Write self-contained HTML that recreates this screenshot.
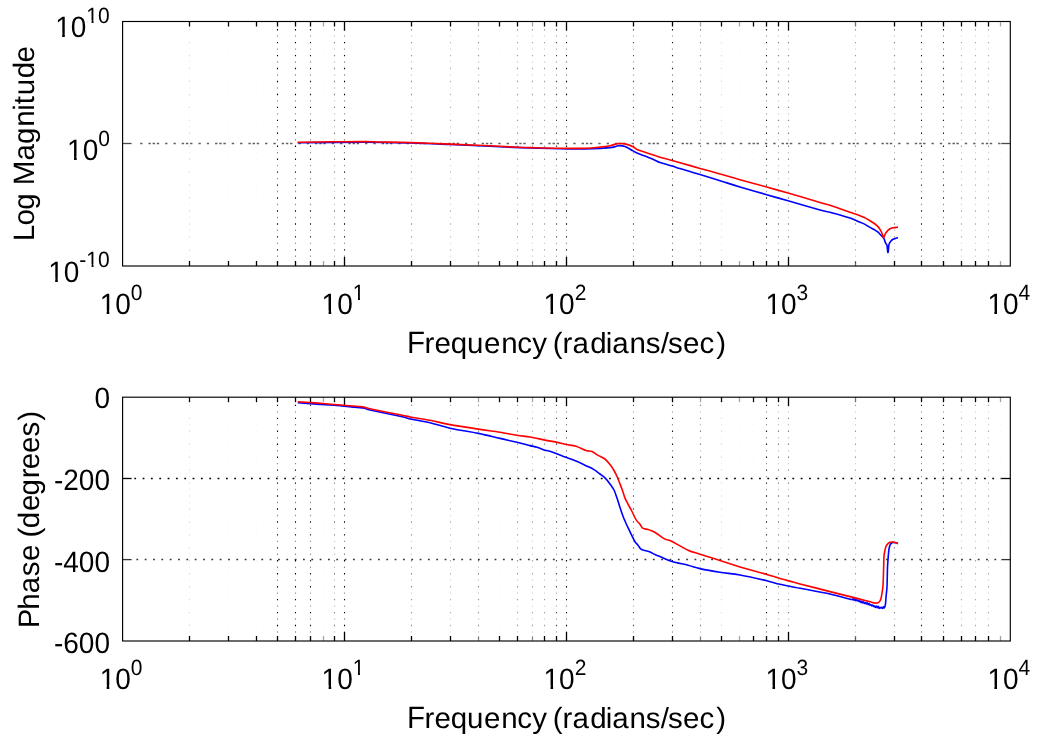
<!DOCTYPE html>
<html><head><meta charset="utf-8"><title>Bode plot</title><style>
html,body{margin:0;padding:0;background:#fff;width:1041px;height:743px;overflow:hidden}
svg{display:block;font-family:"Liberation Sans",sans-serif;fill:#000}
</style></head><body>
<svg width="1041" height="743" viewBox="0 0 1041 743">
<rect width="1041" height="743" fill="#fff"/>
<g stroke="#000" fill="none">
<line x1="189.50" y1="29.00" x2="189.50" y2="266.00" stroke-opacity="0.15" stroke-width="1.1" stroke-dasharray="1.4 11.55"/>
<line x1="189.50" y1="35.47" x2="189.50" y2="266.00" stroke-opacity="0.068" stroke-width="1.1" stroke-dasharray="1.4 11.55"/>
<line x1="228.50" y1="29.00" x2="228.50" y2="266.00" stroke-opacity="0.04" stroke-width="1.1" stroke-dasharray="1.4 11.55"/>
<line x1="228.50" y1="35.47" x2="228.50" y2="266.00" stroke-opacity="0.018" stroke-width="1.1" stroke-dasharray="1.4 11.55"/>
<line x1="256.50" y1="29.00" x2="256.50" y2="266.00" stroke-opacity="0.04" stroke-width="1.1" stroke-dasharray="1.4 11.55"/>
<line x1="256.50" y1="35.47" x2="256.50" y2="266.00" stroke-opacity="0.018" stroke-width="1.1" stroke-dasharray="1.4 11.55"/>
<line x1="277.50" y1="29.00" x2="277.50" y2="266.00" stroke-opacity="1.0" stroke-width="1.1" stroke-dasharray="1.4 11.55"/>
<line x1="277.50" y1="35.47" x2="277.50" y2="266.00" stroke-opacity="0.450" stroke-width="1.1" stroke-dasharray="1.4 11.55"/>
<line x1="295.50" y1="29.00" x2="295.50" y2="266.00" stroke-opacity="1.0" stroke-width="1.1" stroke-dasharray="1.4 11.55"/>
<line x1="295.50" y1="35.47" x2="295.50" y2="266.00" stroke-opacity="0.450" stroke-width="1.1" stroke-dasharray="1.4 11.55"/>
<line x1="310.50" y1="29.00" x2="310.50" y2="266.00" stroke-opacity="0.9" stroke-width="1.1" stroke-dasharray="1.4 11.55"/>
<line x1="310.50" y1="35.47" x2="310.50" y2="266.00" stroke-opacity="0.405" stroke-width="1.1" stroke-dasharray="1.4 11.55"/>
<line x1="323.50" y1="29.00" x2="323.50" y2="266.00" stroke-opacity="0.04" stroke-width="1.1" stroke-dasharray="1.4 11.55"/>
<line x1="323.50" y1="35.47" x2="323.50" y2="266.00" stroke-opacity="0.018" stroke-width="1.1" stroke-dasharray="1.4 11.55"/>
<line x1="334.50" y1="29.00" x2="334.50" y2="266.00" stroke-opacity="0.5" stroke-width="1.1" stroke-dasharray="1.4 11.55"/>
<line x1="334.50" y1="35.47" x2="334.50" y2="266.00" stroke-opacity="0.225" stroke-width="1.1" stroke-dasharray="1.4 11.55"/>
<line x1="344.50" y1="29.00" x2="344.50" y2="266.00" stroke-opacity="1.0" stroke-width="1.1" stroke-dasharray="1.4 11.55"/>
<line x1="344.50" y1="35.47" x2="344.50" y2="266.00" stroke-opacity="0.450" stroke-width="1.1" stroke-dasharray="1.4 11.55"/>
<line x1="411.50" y1="29.00" x2="411.50" y2="266.00" stroke-opacity="0.45" stroke-width="1.1" stroke-dasharray="1.4 11.55"/>
<line x1="411.50" y1="35.47" x2="411.50" y2="266.00" stroke-opacity="0.203" stroke-width="1.1" stroke-dasharray="1.4 11.55"/>
<line x1="450.50" y1="29.00" x2="450.50" y2="266.00" stroke-opacity="0.3" stroke-width="1.1" stroke-dasharray="1.4 11.55"/>
<line x1="450.50" y1="35.47" x2="450.50" y2="266.00" stroke-opacity="0.135" stroke-width="1.1" stroke-dasharray="1.4 11.55"/>
<line x1="478.50" y1="29.00" x2="478.50" y2="266.00" stroke-opacity="0.45" stroke-width="1.1" stroke-dasharray="1.4 11.55"/>
<line x1="478.50" y1="35.47" x2="478.50" y2="266.00" stroke-opacity="0.203" stroke-width="1.1" stroke-dasharray="1.4 11.55"/>
<line x1="499.50" y1="29.00" x2="499.50" y2="266.00" stroke-opacity="0.04" stroke-width="1.1" stroke-dasharray="1.4 11.55"/>
<line x1="499.50" y1="35.47" x2="499.50" y2="266.00" stroke-opacity="0.018" stroke-width="1.1" stroke-dasharray="1.4 11.55"/>
<line x1="517.50" y1="29.00" x2="517.50" y2="266.00" stroke-opacity="0.4" stroke-width="1.1" stroke-dasharray="1.4 11.55"/>
<line x1="517.50" y1="35.47" x2="517.50" y2="266.00" stroke-opacity="0.180" stroke-width="1.1" stroke-dasharray="1.4 11.55"/>
<line x1="532.50" y1="29.00" x2="532.50" y2="266.00" stroke-opacity="0.35" stroke-width="1.1" stroke-dasharray="1.4 11.55"/>
<line x1="532.50" y1="35.47" x2="532.50" y2="266.00" stroke-opacity="0.158" stroke-width="1.1" stroke-dasharray="1.4 11.55"/>
<line x1="544.50" y1="29.00" x2="544.50" y2="266.00" stroke-opacity="0.4" stroke-width="1.1" stroke-dasharray="1.4 11.55"/>
<line x1="544.50" y1="35.47" x2="544.50" y2="266.00" stroke-opacity="0.180" stroke-width="1.1" stroke-dasharray="1.4 11.55"/>
<line x1="556.50" y1="29.00" x2="556.50" y2="266.00" stroke-opacity="0.7" stroke-width="1.1" stroke-dasharray="1.4 11.55"/>
<line x1="556.50" y1="35.47" x2="556.50" y2="266.00" stroke-opacity="0.315" stroke-width="1.1" stroke-dasharray="1.4 11.55"/>
<line x1="566.50" y1="29.00" x2="566.50" y2="266.00" stroke-opacity="1.0" stroke-width="1.1" stroke-dasharray="1.4 11.55"/>
<line x1="566.50" y1="35.47" x2="566.50" y2="266.00" stroke-opacity="0.450" stroke-width="1.1" stroke-dasharray="1.4 11.55"/>
<line x1="633.50" y1="29.00" x2="633.50" y2="266.00" stroke-opacity="0.7" stroke-width="1.1" stroke-dasharray="1.4 11.55"/>
<line x1="633.50" y1="35.47" x2="633.50" y2="266.00" stroke-opacity="0.315" stroke-width="1.1" stroke-dasharray="1.4 11.55"/>
<line x1="672.50" y1="29.00" x2="672.50" y2="266.00" stroke-opacity="0.9" stroke-width="1.1" stroke-dasharray="1.4 11.55"/>
<line x1="672.50" y1="35.47" x2="672.50" y2="266.00" stroke-opacity="0.405" stroke-width="1.1" stroke-dasharray="1.4 11.55"/>
<line x1="700.50" y1="29.00" x2="700.50" y2="266.00" stroke-opacity="0.5" stroke-width="1.1" stroke-dasharray="1.4 11.55"/>
<line x1="700.50" y1="35.47" x2="700.50" y2="266.00" stroke-opacity="0.225" stroke-width="1.1" stroke-dasharray="1.4 11.55"/>
<line x1="721.50" y1="29.00" x2="721.50" y2="266.00" stroke-opacity="0.15" stroke-width="1.1" stroke-dasharray="1.4 11.55"/>
<line x1="721.50" y1="35.47" x2="721.50" y2="266.00" stroke-opacity="0.068" stroke-width="1.1" stroke-dasharray="1.4 11.55"/>
<line x1="739.50" y1="29.00" x2="739.50" y2="266.00" stroke-opacity="0.04" stroke-width="1.1" stroke-dasharray="1.4 11.55"/>
<line x1="739.50" y1="35.47" x2="739.50" y2="266.00" stroke-opacity="0.018" stroke-width="1.1" stroke-dasharray="1.4 11.55"/>
<line x1="753.50" y1="29.00" x2="753.50" y2="266.00" stroke-opacity="0.04" stroke-width="1.1" stroke-dasharray="1.4 11.55"/>
<line x1="753.50" y1="35.47" x2="753.50" y2="266.00" stroke-opacity="0.018" stroke-width="1.1" stroke-dasharray="1.4 11.55"/>
<line x1="766.50" y1="29.00" x2="766.50" y2="266.00" stroke-opacity="0.9" stroke-width="1.1" stroke-dasharray="1.4 11.55"/>
<line x1="766.50" y1="35.47" x2="766.50" y2="266.00" stroke-opacity="0.405" stroke-width="1.1" stroke-dasharray="1.4 11.55"/>
<line x1="778.50" y1="29.00" x2="778.50" y2="266.00" stroke-opacity="0.5" stroke-width="1.1" stroke-dasharray="1.4 11.55"/>
<line x1="778.50" y1="35.47" x2="778.50" y2="266.00" stroke-opacity="0.225" stroke-width="1.1" stroke-dasharray="1.4 11.55"/>
<line x1="788.50" y1="29.00" x2="788.50" y2="266.00" stroke-opacity="0.5" stroke-width="1.1" stroke-dasharray="1.4 11.55"/>
<line x1="788.50" y1="35.47" x2="788.50" y2="266.00" stroke-opacity="0.225" stroke-width="1.1" stroke-dasharray="1.4 11.55"/>
<line x1="855.50" y1="29.00" x2="855.50" y2="266.00" stroke-opacity="0.4" stroke-width="1.1" stroke-dasharray="1.4 11.55"/>
<line x1="855.50" y1="35.47" x2="855.50" y2="266.00" stroke-opacity="0.180" stroke-width="1.1" stroke-dasharray="1.4 11.55"/>
<line x1="894.50" y1="29.00" x2="894.50" y2="266.00" stroke-opacity="0.5" stroke-width="1.1" stroke-dasharray="1.4 11.55"/>
<line x1="894.50" y1="35.47" x2="894.50" y2="266.00" stroke-opacity="0.225" stroke-width="1.1" stroke-dasharray="1.4 11.55"/>
<line x1="921.50" y1="29.00" x2="921.50" y2="266.00" stroke-opacity="0.9" stroke-width="1.1" stroke-dasharray="1.4 11.55"/>
<line x1="921.50" y1="35.47" x2="921.50" y2="266.00" stroke-opacity="0.405" stroke-width="1.1" stroke-dasharray="1.4 11.55"/>
<line x1="943.50" y1="29.00" x2="943.50" y2="266.00" stroke-opacity="0.9" stroke-width="1.1" stroke-dasharray="1.4 11.55"/>
<line x1="943.50" y1="35.47" x2="943.50" y2="266.00" stroke-opacity="0.405" stroke-width="1.1" stroke-dasharray="1.4 11.55"/>
<line x1="961.50" y1="29.00" x2="961.50" y2="266.00" stroke-opacity="0.35" stroke-width="1.1" stroke-dasharray="1.4 11.55"/>
<line x1="961.50" y1="35.47" x2="961.50" y2="266.00" stroke-opacity="0.158" stroke-width="1.1" stroke-dasharray="1.4 11.55"/>
<line x1="975.50" y1="29.00" x2="975.50" y2="266.00" stroke-opacity="0.35" stroke-width="1.1" stroke-dasharray="1.4 11.55"/>
<line x1="975.50" y1="35.47" x2="975.50" y2="266.00" stroke-opacity="0.158" stroke-width="1.1" stroke-dasharray="1.4 11.55"/>
<line x1="988.50" y1="29.00" x2="988.50" y2="266.00" stroke-opacity="0.35" stroke-width="1.1" stroke-dasharray="1.4 11.55"/>
<line x1="988.50" y1="35.47" x2="988.50" y2="266.00" stroke-opacity="0.158" stroke-width="1.1" stroke-dasharray="1.4 11.55"/>
<line x1="1000.50" y1="29.00" x2="1000.50" y2="266.00" stroke-opacity="0.04" stroke-width="1.1" stroke-dasharray="1.4 11.55"/>
<line x1="1000.50" y1="35.47" x2="1000.50" y2="266.00" stroke-opacity="0.018" stroke-width="1.1" stroke-dasharray="1.4 11.55"/>
<line x1="140.1" y1="143.50" x2="1001.30" y2="143.50" stroke-opacity="0.62" stroke-width="1.4" stroke-dasharray="2.4 5.93"/>
<line x1="152.6" y1="143.50" x2="1001.30" y2="143.50" stroke-opacity="0.62" stroke-width="1.4" stroke-dasharray="2.4 30.93"/>
<line x1="189.50" y1="21.50" x2="189.50" y2="26.50" stroke-opacity="1.0" stroke-width="1.3"/>
<line x1="189.50" y1="266.00" x2="189.50" y2="261.00" stroke-opacity="1.0" stroke-width="1.3"/>
<line x1="228.50" y1="21.50" x2="228.50" y2="26.50" stroke-opacity="1.0" stroke-width="1.3"/>
<line x1="228.50" y1="266.00" x2="228.50" y2="261.00" stroke-opacity="1.0" stroke-width="1.3"/>
<line x1="256.50" y1="21.50" x2="256.50" y2="26.50" stroke-opacity="1.0" stroke-width="1.3"/>
<line x1="256.50" y1="266.00" x2="256.50" y2="261.00" stroke-opacity="1.0" stroke-width="1.3"/>
<line x1="277.50" y1="21.50" x2="277.50" y2="26.50" stroke-opacity="1.0" stroke-width="1.3"/>
<line x1="277.50" y1="266.00" x2="277.50" y2="261.00" stroke-opacity="1.0" stroke-width="1.3"/>
<line x1="295.50" y1="21.50" x2="295.50" y2="26.50" stroke-opacity="1.0" stroke-width="1.3"/>
<line x1="295.50" y1="266.00" x2="295.50" y2="261.00" stroke-opacity="1.0" stroke-width="1.3"/>
<line x1="310.50" y1="21.50" x2="310.50" y2="26.50" stroke-opacity="1.0" stroke-width="1.3"/>
<line x1="310.50" y1="266.00" x2="310.50" y2="261.00" stroke-opacity="1.0" stroke-width="1.3"/>
<line x1="323.50" y1="21.50" x2="323.50" y2="26.50" stroke-opacity="0.35" stroke-width="1.3"/>
<line x1="323.50" y1="266.00" x2="323.50" y2="261.00" stroke-opacity="0.35" stroke-width="1.3"/>
<line x1="334.50" y1="21.50" x2="334.50" y2="26.50" stroke-opacity="1.0" stroke-width="1.3"/>
<line x1="334.50" y1="266.00" x2="334.50" y2="261.00" stroke-opacity="1.0" stroke-width="1.3"/>
<line x1="344.50" y1="21.50" x2="344.50" y2="30.50" stroke-opacity="1.0" stroke-width="1.3"/>
<line x1="344.50" y1="266.00" x2="344.50" y2="257.00" stroke-opacity="1.0" stroke-width="1.3"/>
<line x1="411.50" y1="21.50" x2="411.50" y2="26.50" stroke-opacity="1.0" stroke-width="1.3"/>
<line x1="411.50" y1="266.00" x2="411.50" y2="261.00" stroke-opacity="1.0" stroke-width="1.3"/>
<line x1="450.50" y1="21.50" x2="450.50" y2="26.50" stroke-opacity="1.0" stroke-width="1.3"/>
<line x1="450.50" y1="266.00" x2="450.50" y2="261.00" stroke-opacity="1.0" stroke-width="1.3"/>
<line x1="478.50" y1="21.50" x2="478.50" y2="26.50" stroke-opacity="0.35" stroke-width="1.3"/>
<line x1="478.50" y1="266.00" x2="478.50" y2="261.00" stroke-opacity="0.35" stroke-width="1.3"/>
<line x1="499.50" y1="21.50" x2="499.50" y2="26.50" stroke-opacity="1.0" stroke-width="1.3"/>
<line x1="499.50" y1="266.00" x2="499.50" y2="261.00" stroke-opacity="1.0" stroke-width="1.3"/>
<line x1="517.50" y1="21.50" x2="517.50" y2="26.50" stroke-opacity="1.0" stroke-width="1.3"/>
<line x1="517.50" y1="266.00" x2="517.50" y2="261.00" stroke-opacity="1.0" stroke-width="1.3"/>
<line x1="532.50" y1="21.50" x2="532.50" y2="26.50" stroke-opacity="0.35" stroke-width="1.3"/>
<line x1="532.50" y1="266.00" x2="532.50" y2="261.00" stroke-opacity="0.35" stroke-width="1.3"/>
<line x1="544.50" y1="21.50" x2="544.50" y2="26.50" stroke-opacity="1.0" stroke-width="1.3"/>
<line x1="544.50" y1="266.00" x2="544.50" y2="261.00" stroke-opacity="1.0" stroke-width="1.3"/>
<line x1="556.50" y1="21.50" x2="556.50" y2="26.50" stroke-opacity="1.0" stroke-width="1.3"/>
<line x1="556.50" y1="266.00" x2="556.50" y2="261.00" stroke-opacity="1.0" stroke-width="1.3"/>
<line x1="566.50" y1="21.50" x2="566.50" y2="30.50" stroke-opacity="1.0" stroke-width="1.3"/>
<line x1="566.50" y1="266.00" x2="566.50" y2="257.00" stroke-opacity="1.0" stroke-width="1.3"/>
<line x1="633.50" y1="21.50" x2="633.50" y2="26.50" stroke-opacity="1.0" stroke-width="1.3"/>
<line x1="633.50" y1="266.00" x2="633.50" y2="261.00" stroke-opacity="1.0" stroke-width="1.3"/>
<line x1="672.50" y1="21.50" x2="672.50" y2="26.50" stroke-opacity="1.0" stroke-width="1.3"/>
<line x1="672.50" y1="266.00" x2="672.50" y2="261.00" stroke-opacity="1.0" stroke-width="1.3"/>
<line x1="700.50" y1="21.50" x2="700.50" y2="26.50" stroke-opacity="0.35" stroke-width="1.3"/>
<line x1="700.50" y1="266.00" x2="700.50" y2="261.00" stroke-opacity="0.35" stroke-width="1.3"/>
<line x1="721.50" y1="21.50" x2="721.50" y2="26.50" stroke-opacity="1.0" stroke-width="1.3"/>
<line x1="721.50" y1="266.00" x2="721.50" y2="261.00" stroke-opacity="1.0" stroke-width="1.3"/>
<line x1="739.50" y1="21.50" x2="739.50" y2="26.50" stroke-opacity="0.35" stroke-width="1.3"/>
<line x1="739.50" y1="266.00" x2="739.50" y2="261.00" stroke-opacity="0.35" stroke-width="1.3"/>
<line x1="753.50" y1="21.50" x2="753.50" y2="26.50" stroke-opacity="1.0" stroke-width="1.3"/>
<line x1="753.50" y1="266.00" x2="753.50" y2="261.00" stroke-opacity="1.0" stroke-width="1.3"/>
<line x1="766.50" y1="21.50" x2="766.50" y2="26.50" stroke-opacity="1.0" stroke-width="1.3"/>
<line x1="766.50" y1="266.00" x2="766.50" y2="261.00" stroke-opacity="1.0" stroke-width="1.3"/>
<line x1="778.50" y1="21.50" x2="778.50" y2="26.50" stroke-opacity="1.0" stroke-width="1.3"/>
<line x1="778.50" y1="266.00" x2="778.50" y2="261.00" stroke-opacity="1.0" stroke-width="1.3"/>
<line x1="788.50" y1="21.50" x2="788.50" y2="30.50" stroke-opacity="1.0" stroke-width="1.3"/>
<line x1="788.50" y1="266.00" x2="788.50" y2="257.00" stroke-opacity="1.0" stroke-width="1.3"/>
<line x1="855.50" y1="21.50" x2="855.50" y2="26.50" stroke-opacity="0.55" stroke-width="1.3"/>
<line x1="855.50" y1="266.00" x2="855.50" y2="261.00" stroke-opacity="0.55" stroke-width="1.3"/>
<line x1="894.50" y1="21.50" x2="894.50" y2="26.50" stroke-opacity="1.0" stroke-width="1.3"/>
<line x1="894.50" y1="266.00" x2="894.50" y2="261.00" stroke-opacity="1.0" stroke-width="1.3"/>
<line x1="921.50" y1="21.50" x2="921.50" y2="26.50" stroke-opacity="1.0" stroke-width="1.3"/>
<line x1="921.50" y1="266.00" x2="921.50" y2="261.00" stroke-opacity="1.0" stroke-width="1.3"/>
<line x1="943.50" y1="21.50" x2="943.50" y2="26.50" stroke-opacity="1.0" stroke-width="1.3"/>
<line x1="943.50" y1="266.00" x2="943.50" y2="261.00" stroke-opacity="1.0" stroke-width="1.3"/>
<line x1="961.50" y1="21.50" x2="961.50" y2="26.50" stroke-opacity="1.0" stroke-width="1.3"/>
<line x1="961.50" y1="266.00" x2="961.50" y2="261.00" stroke-opacity="1.0" stroke-width="1.3"/>
<line x1="975.50" y1="21.50" x2="975.50" y2="26.50" stroke-opacity="1.0" stroke-width="1.3"/>
<line x1="975.50" y1="266.00" x2="975.50" y2="261.00" stroke-opacity="1.0" stroke-width="1.3"/>
<line x1="988.50" y1="21.50" x2="988.50" y2="26.50" stroke-opacity="1.0" stroke-width="1.3"/>
<line x1="988.50" y1="266.00" x2="988.50" y2="261.00" stroke-opacity="1.0" stroke-width="1.3"/>
<line x1="1000.50" y1="21.50" x2="1000.50" y2="26.50" stroke-opacity="0.35" stroke-width="1.3"/>
<line x1="1000.50" y1="266.00" x2="1000.50" y2="261.00" stroke-opacity="0.35" stroke-width="1.3"/>
<line x1="122.60" y1="143.50" x2="131.60" y2="143.50" stroke-opacity="0.7" stroke-width="1.3"/>
<line x1="1010.30" y1="143.50" x2="1001.30" y2="143.50" stroke-opacity="0.7" stroke-width="1.3"/>
<line x1="189.50" y1="404.70" x2="189.50" y2="641.00" stroke-opacity="0.15" stroke-width="1.1" stroke-dasharray="1.4 11.55"/>
<line x1="189.50" y1="411.17" x2="189.50" y2="641.00" stroke-opacity="0.068" stroke-width="1.1" stroke-dasharray="1.4 11.55"/>
<line x1="228.50" y1="404.70" x2="228.50" y2="641.00" stroke-opacity="0.04" stroke-width="1.1" stroke-dasharray="1.4 11.55"/>
<line x1="228.50" y1="411.17" x2="228.50" y2="641.00" stroke-opacity="0.018" stroke-width="1.1" stroke-dasharray="1.4 11.55"/>
<line x1="256.50" y1="404.70" x2="256.50" y2="641.00" stroke-opacity="0.04" stroke-width="1.1" stroke-dasharray="1.4 11.55"/>
<line x1="256.50" y1="411.17" x2="256.50" y2="641.00" stroke-opacity="0.018" stroke-width="1.1" stroke-dasharray="1.4 11.55"/>
<line x1="277.50" y1="404.70" x2="277.50" y2="641.00" stroke-opacity="1.0" stroke-width="1.1" stroke-dasharray="1.4 11.55"/>
<line x1="277.50" y1="411.17" x2="277.50" y2="641.00" stroke-opacity="0.450" stroke-width="1.1" stroke-dasharray="1.4 11.55"/>
<line x1="295.50" y1="404.70" x2="295.50" y2="641.00" stroke-opacity="1.0" stroke-width="1.1" stroke-dasharray="1.4 11.55"/>
<line x1="295.50" y1="411.17" x2="295.50" y2="641.00" stroke-opacity="0.450" stroke-width="1.1" stroke-dasharray="1.4 11.55"/>
<line x1="310.50" y1="404.70" x2="310.50" y2="641.00" stroke-opacity="0.9" stroke-width="1.1" stroke-dasharray="1.4 11.55"/>
<line x1="310.50" y1="411.17" x2="310.50" y2="641.00" stroke-opacity="0.405" stroke-width="1.1" stroke-dasharray="1.4 11.55"/>
<line x1="323.50" y1="404.70" x2="323.50" y2="641.00" stroke-opacity="0.04" stroke-width="1.1" stroke-dasharray="1.4 11.55"/>
<line x1="323.50" y1="411.17" x2="323.50" y2="641.00" stroke-opacity="0.018" stroke-width="1.1" stroke-dasharray="1.4 11.55"/>
<line x1="334.50" y1="404.70" x2="334.50" y2="641.00" stroke-opacity="0.5" stroke-width="1.1" stroke-dasharray="1.4 11.55"/>
<line x1="334.50" y1="411.17" x2="334.50" y2="641.00" stroke-opacity="0.225" stroke-width="1.1" stroke-dasharray="1.4 11.55"/>
<line x1="344.50" y1="404.70" x2="344.50" y2="641.00" stroke-opacity="1.0" stroke-width="1.1" stroke-dasharray="1.4 11.55"/>
<line x1="344.50" y1="411.17" x2="344.50" y2="641.00" stroke-opacity="0.450" stroke-width="1.1" stroke-dasharray="1.4 11.55"/>
<line x1="411.50" y1="404.70" x2="411.50" y2="641.00" stroke-opacity="0.45" stroke-width="1.1" stroke-dasharray="1.4 11.55"/>
<line x1="411.50" y1="411.17" x2="411.50" y2="641.00" stroke-opacity="0.203" stroke-width="1.1" stroke-dasharray="1.4 11.55"/>
<line x1="450.50" y1="404.70" x2="450.50" y2="641.00" stroke-opacity="0.3" stroke-width="1.1" stroke-dasharray="1.4 11.55"/>
<line x1="450.50" y1="411.17" x2="450.50" y2="641.00" stroke-opacity="0.135" stroke-width="1.1" stroke-dasharray="1.4 11.55"/>
<line x1="478.50" y1="404.70" x2="478.50" y2="641.00" stroke-opacity="0.45" stroke-width="1.1" stroke-dasharray="1.4 11.55"/>
<line x1="478.50" y1="411.17" x2="478.50" y2="641.00" stroke-opacity="0.203" stroke-width="1.1" stroke-dasharray="1.4 11.55"/>
<line x1="499.50" y1="404.70" x2="499.50" y2="641.00" stroke-opacity="0.04" stroke-width="1.1" stroke-dasharray="1.4 11.55"/>
<line x1="499.50" y1="411.17" x2="499.50" y2="641.00" stroke-opacity="0.018" stroke-width="1.1" stroke-dasharray="1.4 11.55"/>
<line x1="517.50" y1="404.70" x2="517.50" y2="641.00" stroke-opacity="0.4" stroke-width="1.1" stroke-dasharray="1.4 11.55"/>
<line x1="517.50" y1="411.17" x2="517.50" y2="641.00" stroke-opacity="0.180" stroke-width="1.1" stroke-dasharray="1.4 11.55"/>
<line x1="532.50" y1="404.70" x2="532.50" y2="641.00" stroke-opacity="0.35" stroke-width="1.1" stroke-dasharray="1.4 11.55"/>
<line x1="532.50" y1="411.17" x2="532.50" y2="641.00" stroke-opacity="0.158" stroke-width="1.1" stroke-dasharray="1.4 11.55"/>
<line x1="544.50" y1="404.70" x2="544.50" y2="641.00" stroke-opacity="0.4" stroke-width="1.1" stroke-dasharray="1.4 11.55"/>
<line x1="544.50" y1="411.17" x2="544.50" y2="641.00" stroke-opacity="0.180" stroke-width="1.1" stroke-dasharray="1.4 11.55"/>
<line x1="556.50" y1="404.70" x2="556.50" y2="641.00" stroke-opacity="0.7" stroke-width="1.1" stroke-dasharray="1.4 11.55"/>
<line x1="556.50" y1="411.17" x2="556.50" y2="641.00" stroke-opacity="0.315" stroke-width="1.1" stroke-dasharray="1.4 11.55"/>
<line x1="566.50" y1="404.70" x2="566.50" y2="641.00" stroke-opacity="1.0" stroke-width="1.1" stroke-dasharray="1.4 11.55"/>
<line x1="566.50" y1="411.17" x2="566.50" y2="641.00" stroke-opacity="0.450" stroke-width="1.1" stroke-dasharray="1.4 11.55"/>
<line x1="633.50" y1="404.70" x2="633.50" y2="641.00" stroke-opacity="0.7" stroke-width="1.1" stroke-dasharray="1.4 11.55"/>
<line x1="633.50" y1="411.17" x2="633.50" y2="641.00" stroke-opacity="0.315" stroke-width="1.1" stroke-dasharray="1.4 11.55"/>
<line x1="672.50" y1="404.70" x2="672.50" y2="641.00" stroke-opacity="0.9" stroke-width="1.1" stroke-dasharray="1.4 11.55"/>
<line x1="672.50" y1="411.17" x2="672.50" y2="641.00" stroke-opacity="0.405" stroke-width="1.1" stroke-dasharray="1.4 11.55"/>
<line x1="700.50" y1="404.70" x2="700.50" y2="641.00" stroke-opacity="0.5" stroke-width="1.1" stroke-dasharray="1.4 11.55"/>
<line x1="700.50" y1="411.17" x2="700.50" y2="641.00" stroke-opacity="0.225" stroke-width="1.1" stroke-dasharray="1.4 11.55"/>
<line x1="721.50" y1="404.70" x2="721.50" y2="641.00" stroke-opacity="0.15" stroke-width="1.1" stroke-dasharray="1.4 11.55"/>
<line x1="721.50" y1="411.17" x2="721.50" y2="641.00" stroke-opacity="0.068" stroke-width="1.1" stroke-dasharray="1.4 11.55"/>
<line x1="739.50" y1="404.70" x2="739.50" y2="641.00" stroke-opacity="0.04" stroke-width="1.1" stroke-dasharray="1.4 11.55"/>
<line x1="739.50" y1="411.17" x2="739.50" y2="641.00" stroke-opacity="0.018" stroke-width="1.1" stroke-dasharray="1.4 11.55"/>
<line x1="753.50" y1="404.70" x2="753.50" y2="641.00" stroke-opacity="0.04" stroke-width="1.1" stroke-dasharray="1.4 11.55"/>
<line x1="753.50" y1="411.17" x2="753.50" y2="641.00" stroke-opacity="0.018" stroke-width="1.1" stroke-dasharray="1.4 11.55"/>
<line x1="766.50" y1="404.70" x2="766.50" y2="641.00" stroke-opacity="0.9" stroke-width="1.1" stroke-dasharray="1.4 11.55"/>
<line x1="766.50" y1="411.17" x2="766.50" y2="641.00" stroke-opacity="0.405" stroke-width="1.1" stroke-dasharray="1.4 11.55"/>
<line x1="778.50" y1="404.70" x2="778.50" y2="641.00" stroke-opacity="0.5" stroke-width="1.1" stroke-dasharray="1.4 11.55"/>
<line x1="778.50" y1="411.17" x2="778.50" y2="641.00" stroke-opacity="0.225" stroke-width="1.1" stroke-dasharray="1.4 11.55"/>
<line x1="788.50" y1="404.70" x2="788.50" y2="641.00" stroke-opacity="0.5" stroke-width="1.1" stroke-dasharray="1.4 11.55"/>
<line x1="788.50" y1="411.17" x2="788.50" y2="641.00" stroke-opacity="0.225" stroke-width="1.1" stroke-dasharray="1.4 11.55"/>
<line x1="855.50" y1="404.70" x2="855.50" y2="641.00" stroke-opacity="0.4" stroke-width="1.1" stroke-dasharray="1.4 11.55"/>
<line x1="855.50" y1="411.17" x2="855.50" y2="641.00" stroke-opacity="0.180" stroke-width="1.1" stroke-dasharray="1.4 11.55"/>
<line x1="894.50" y1="404.70" x2="894.50" y2="641.00" stroke-opacity="0.5" stroke-width="1.1" stroke-dasharray="1.4 11.55"/>
<line x1="894.50" y1="411.17" x2="894.50" y2="641.00" stroke-opacity="0.225" stroke-width="1.1" stroke-dasharray="1.4 11.55"/>
<line x1="921.50" y1="404.70" x2="921.50" y2="641.00" stroke-opacity="0.9" stroke-width="1.1" stroke-dasharray="1.4 11.55"/>
<line x1="921.50" y1="411.17" x2="921.50" y2="641.00" stroke-opacity="0.405" stroke-width="1.1" stroke-dasharray="1.4 11.55"/>
<line x1="943.50" y1="404.70" x2="943.50" y2="641.00" stroke-opacity="0.9" stroke-width="1.1" stroke-dasharray="1.4 11.55"/>
<line x1="943.50" y1="411.17" x2="943.50" y2="641.00" stroke-opacity="0.405" stroke-width="1.1" stroke-dasharray="1.4 11.55"/>
<line x1="961.50" y1="404.70" x2="961.50" y2="641.00" stroke-opacity="0.35" stroke-width="1.1" stroke-dasharray="1.4 11.55"/>
<line x1="961.50" y1="411.17" x2="961.50" y2="641.00" stroke-opacity="0.158" stroke-width="1.1" stroke-dasharray="1.4 11.55"/>
<line x1="975.50" y1="404.70" x2="975.50" y2="641.00" stroke-opacity="0.35" stroke-width="1.1" stroke-dasharray="1.4 11.55"/>
<line x1="975.50" y1="411.17" x2="975.50" y2="641.00" stroke-opacity="0.158" stroke-width="1.1" stroke-dasharray="1.4 11.55"/>
<line x1="988.50" y1="404.70" x2="988.50" y2="641.00" stroke-opacity="0.35" stroke-width="1.1" stroke-dasharray="1.4 11.55"/>
<line x1="988.50" y1="411.17" x2="988.50" y2="641.00" stroke-opacity="0.158" stroke-width="1.1" stroke-dasharray="1.4 11.55"/>
<line x1="1000.50" y1="404.70" x2="1000.50" y2="641.00" stroke-opacity="0.04" stroke-width="1.1" stroke-dasharray="1.4 11.55"/>
<line x1="1000.50" y1="411.17" x2="1000.50" y2="641.00" stroke-opacity="0.018" stroke-width="1.1" stroke-dasharray="1.4 11.55"/>
<line x1="134.3" y1="478.50" x2="1001.30" y2="478.50" stroke-opacity="1.0" stroke-width="1.5" stroke-dasharray="1.8 6.53"/>
<line x1="122.60" y1="478.50" x2="131.60" y2="478.50" stroke-opacity="1.0" stroke-width="1.3"/>
<line x1="1010.30" y1="478.50" x2="1001.30" y2="478.50" stroke-opacity="1.0" stroke-width="1.3"/>
<line x1="136.4" y1="559.60" x2="1001.30" y2="559.60" stroke-opacity="0.8" stroke-width="1.5" stroke-dasharray="1.8 6.53"/>
<line x1="122.60" y1="559.60" x2="131.60" y2="559.60" stroke-opacity="0.8" stroke-width="1.3"/>
<line x1="1010.30" y1="559.60" x2="1001.30" y2="559.60" stroke-opacity="0.8" stroke-width="1.3"/>
<line x1="189.50" y1="397.20" x2="189.50" y2="402.20" stroke-opacity="1.0" stroke-width="1.3"/>
<line x1="189.50" y1="641.00" x2="189.50" y2="636.00" stroke-opacity="1.0" stroke-width="1.3"/>
<line x1="228.50" y1="397.20" x2="228.50" y2="402.20" stroke-opacity="1.0" stroke-width="1.3"/>
<line x1="228.50" y1="641.00" x2="228.50" y2="636.00" stroke-opacity="1.0" stroke-width="1.3"/>
<line x1="256.50" y1="397.20" x2="256.50" y2="402.20" stroke-opacity="1.0" stroke-width="1.3"/>
<line x1="256.50" y1="641.00" x2="256.50" y2="636.00" stroke-opacity="1.0" stroke-width="1.3"/>
<line x1="277.50" y1="397.20" x2="277.50" y2="402.20" stroke-opacity="1.0" stroke-width="1.3"/>
<line x1="277.50" y1="641.00" x2="277.50" y2="636.00" stroke-opacity="1.0" stroke-width="1.3"/>
<line x1="295.50" y1="397.20" x2="295.50" y2="402.20" stroke-opacity="1.0" stroke-width="1.3"/>
<line x1="295.50" y1="641.00" x2="295.50" y2="636.00" stroke-opacity="1.0" stroke-width="1.3"/>
<line x1="310.50" y1="397.20" x2="310.50" y2="402.20" stroke-opacity="1.0" stroke-width="1.3"/>
<line x1="310.50" y1="641.00" x2="310.50" y2="636.00" stroke-opacity="1.0" stroke-width="1.3"/>
<line x1="323.50" y1="397.20" x2="323.50" y2="402.20" stroke-opacity="0.35" stroke-width="1.3"/>
<line x1="323.50" y1="641.00" x2="323.50" y2="636.00" stroke-opacity="0.35" stroke-width="1.3"/>
<line x1="334.50" y1="397.20" x2="334.50" y2="402.20" stroke-opacity="1.0" stroke-width="1.3"/>
<line x1="334.50" y1="641.00" x2="334.50" y2="636.00" stroke-opacity="1.0" stroke-width="1.3"/>
<line x1="344.50" y1="397.20" x2="344.50" y2="406.20" stroke-opacity="1.0" stroke-width="1.3"/>
<line x1="344.50" y1="641.00" x2="344.50" y2="632.00" stroke-opacity="1.0" stroke-width="1.3"/>
<line x1="411.50" y1="397.20" x2="411.50" y2="402.20" stroke-opacity="1.0" stroke-width="1.3"/>
<line x1="411.50" y1="641.00" x2="411.50" y2="636.00" stroke-opacity="1.0" stroke-width="1.3"/>
<line x1="450.50" y1="397.20" x2="450.50" y2="402.20" stroke-opacity="1.0" stroke-width="1.3"/>
<line x1="450.50" y1="641.00" x2="450.50" y2="636.00" stroke-opacity="1.0" stroke-width="1.3"/>
<line x1="478.50" y1="397.20" x2="478.50" y2="402.20" stroke-opacity="0.35" stroke-width="1.3"/>
<line x1="478.50" y1="641.00" x2="478.50" y2="636.00" stroke-opacity="0.35" stroke-width="1.3"/>
<line x1="499.50" y1="397.20" x2="499.50" y2="402.20" stroke-opacity="1.0" stroke-width="1.3"/>
<line x1="499.50" y1="641.00" x2="499.50" y2="636.00" stroke-opacity="1.0" stroke-width="1.3"/>
<line x1="517.50" y1="397.20" x2="517.50" y2="402.20" stroke-opacity="1.0" stroke-width="1.3"/>
<line x1="517.50" y1="641.00" x2="517.50" y2="636.00" stroke-opacity="1.0" stroke-width="1.3"/>
<line x1="532.50" y1="397.20" x2="532.50" y2="402.20" stroke-opacity="0.35" stroke-width="1.3"/>
<line x1="532.50" y1="641.00" x2="532.50" y2="636.00" stroke-opacity="0.35" stroke-width="1.3"/>
<line x1="544.50" y1="397.20" x2="544.50" y2="402.20" stroke-opacity="1.0" stroke-width="1.3"/>
<line x1="544.50" y1="641.00" x2="544.50" y2="636.00" stroke-opacity="1.0" stroke-width="1.3"/>
<line x1="556.50" y1="397.20" x2="556.50" y2="402.20" stroke-opacity="1.0" stroke-width="1.3"/>
<line x1="556.50" y1="641.00" x2="556.50" y2="636.00" stroke-opacity="1.0" stroke-width="1.3"/>
<line x1="566.50" y1="397.20" x2="566.50" y2="406.20" stroke-opacity="1.0" stroke-width="1.3"/>
<line x1="566.50" y1="641.00" x2="566.50" y2="632.00" stroke-opacity="1.0" stroke-width="1.3"/>
<line x1="633.50" y1="397.20" x2="633.50" y2="402.20" stroke-opacity="1.0" stroke-width="1.3"/>
<line x1="633.50" y1="641.00" x2="633.50" y2="636.00" stroke-opacity="1.0" stroke-width="1.3"/>
<line x1="672.50" y1="397.20" x2="672.50" y2="402.20" stroke-opacity="1.0" stroke-width="1.3"/>
<line x1="672.50" y1="641.00" x2="672.50" y2="636.00" stroke-opacity="1.0" stroke-width="1.3"/>
<line x1="700.50" y1="397.20" x2="700.50" y2="402.20" stroke-opacity="0.35" stroke-width="1.3"/>
<line x1="700.50" y1="641.00" x2="700.50" y2="636.00" stroke-opacity="0.35" stroke-width="1.3"/>
<line x1="721.50" y1="397.20" x2="721.50" y2="402.20" stroke-opacity="1.0" stroke-width="1.3"/>
<line x1="721.50" y1="641.00" x2="721.50" y2="636.00" stroke-opacity="1.0" stroke-width="1.3"/>
<line x1="739.50" y1="397.20" x2="739.50" y2="402.20" stroke-opacity="0.35" stroke-width="1.3"/>
<line x1="739.50" y1="641.00" x2="739.50" y2="636.00" stroke-opacity="0.35" stroke-width="1.3"/>
<line x1="753.50" y1="397.20" x2="753.50" y2="402.20" stroke-opacity="1.0" stroke-width="1.3"/>
<line x1="753.50" y1="641.00" x2="753.50" y2="636.00" stroke-opacity="1.0" stroke-width="1.3"/>
<line x1="766.50" y1="397.20" x2="766.50" y2="402.20" stroke-opacity="1.0" stroke-width="1.3"/>
<line x1="766.50" y1="641.00" x2="766.50" y2="636.00" stroke-opacity="1.0" stroke-width="1.3"/>
<line x1="778.50" y1="397.20" x2="778.50" y2="402.20" stroke-opacity="1.0" stroke-width="1.3"/>
<line x1="778.50" y1="641.00" x2="778.50" y2="636.00" stroke-opacity="1.0" stroke-width="1.3"/>
<line x1="788.50" y1="397.20" x2="788.50" y2="406.20" stroke-opacity="1.0" stroke-width="1.3"/>
<line x1="788.50" y1="641.00" x2="788.50" y2="632.00" stroke-opacity="1.0" stroke-width="1.3"/>
<line x1="855.50" y1="397.20" x2="855.50" y2="402.20" stroke-opacity="0.55" stroke-width="1.3"/>
<line x1="855.50" y1="641.00" x2="855.50" y2="636.00" stroke-opacity="0.55" stroke-width="1.3"/>
<line x1="894.50" y1="397.20" x2="894.50" y2="402.20" stroke-opacity="1.0" stroke-width="1.3"/>
<line x1="894.50" y1="641.00" x2="894.50" y2="636.00" stroke-opacity="1.0" stroke-width="1.3"/>
<line x1="921.50" y1="397.20" x2="921.50" y2="402.20" stroke-opacity="1.0" stroke-width="1.3"/>
<line x1="921.50" y1="641.00" x2="921.50" y2="636.00" stroke-opacity="1.0" stroke-width="1.3"/>
<line x1="943.50" y1="397.20" x2="943.50" y2="402.20" stroke-opacity="1.0" stroke-width="1.3"/>
<line x1="943.50" y1="641.00" x2="943.50" y2="636.00" stroke-opacity="1.0" stroke-width="1.3"/>
<line x1="961.50" y1="397.20" x2="961.50" y2="402.20" stroke-opacity="1.0" stroke-width="1.3"/>
<line x1="961.50" y1="641.00" x2="961.50" y2="636.00" stroke-opacity="1.0" stroke-width="1.3"/>
<line x1="975.50" y1="397.20" x2="975.50" y2="402.20" stroke-opacity="1.0" stroke-width="1.3"/>
<line x1="975.50" y1="641.00" x2="975.50" y2="636.00" stroke-opacity="1.0" stroke-width="1.3"/>
<line x1="988.50" y1="397.20" x2="988.50" y2="402.20" stroke-opacity="1.0" stroke-width="1.3"/>
<line x1="988.50" y1="641.00" x2="988.50" y2="636.00" stroke-opacity="1.0" stroke-width="1.3"/>
<line x1="1000.50" y1="397.20" x2="1000.50" y2="402.20" stroke-opacity="0.35" stroke-width="1.3"/>
<line x1="1000.50" y1="641.00" x2="1000.50" y2="636.00" stroke-opacity="0.35" stroke-width="1.3"/>
</g>
<g fill="none" stroke-width="1.6" stroke-linejoin="round">
<path d="M297.70,142.80 C308.92,142.70 346.12,142.17 365.00,142.20 C383.88,142.23 396.83,142.62 411.00,143.00 C425.17,143.38 435.17,143.87 450.00,144.50 C464.83,145.13 486.67,146.22 500.00,146.80 C513.33,147.38 520.00,147.67 530.00,148.00 C540.00,148.33 550.83,148.63 560.00,148.80 C569.17,148.97 578.33,149.05 585.00,149.00 C591.67,148.95 595.50,148.77 600.00,148.50 C604.50,148.23 608.92,147.87 612.00,147.40 C615.08,146.93 616.33,145.85 618.50,145.70 C620.67,145.55 622.58,145.63 625.00,146.50 C627.42,147.37 630.92,149.78 633.00,150.90 C635.08,152.02 635.50,152.33 637.50,153.20 C639.50,154.07 642.08,154.92 645.00,156.10 C647.92,157.28 652.50,159.23 655.00,160.30 C657.50,161.37 657.17,161.55 660.00,162.50 C662.83,163.45 668.67,164.98 672.00,166.00 C675.33,167.02 677.00,167.67 680.00,168.60 C683.00,169.53 686.67,170.60 690.00,171.60 C693.33,172.60 695.00,173.08 700.00,174.60 C705.00,176.12 713.33,178.63 720.00,180.70 C726.67,182.77 732.22,184.67 740.00,187.00 C747.78,189.33 758.70,192.40 766.70,194.70 C774.70,197.00 779.12,198.27 788.00,200.80 C796.88,203.33 813.00,207.98 820.00,209.90 C827.00,211.82 826.67,211.47 830.00,212.30 C833.33,213.13 836.67,213.93 840.00,214.90 C843.33,215.87 846.67,216.88 850.00,218.10 C853.33,219.32 857.50,221.15 860.00,222.20 C862.50,223.25 863.33,223.53 865.00,224.40 C866.67,225.27 868.33,226.45 870.00,227.40 C871.67,228.35 873.67,229.30 875.00,230.10 C876.33,230.90 877.17,231.52 878.00,232.20 C878.83,232.88 879.33,233.53 880.00,234.20 C880.67,234.87 881.33,235.45 882.00,236.20 C882.67,236.95 883.50,237.80 884.00,238.70 C884.50,239.60 884.67,240.75 885.00,241.60 C885.33,242.45 885.67,243.15 886.00,243.80 C886.33,244.45 886.70,244.08 887.00,245.50 C887.30,246.92 887.57,251.47 887.80,252.30 C888.03,253.13 888.20,251.82 888.40,250.50 C888.60,249.18 888.57,245.98 889.00,244.40 C889.43,242.82 890.33,241.85 891.00,241.00 C891.67,240.15 892.17,239.77 893.00,239.30 C893.83,238.83 895.17,238.48 896.00,238.20 C896.83,237.92 897.67,237.70 898.00,237.60" stroke="#0000ff"/>
<path d="M297.70,142.30 C303.75,142.22 322.78,141.92 334.00,141.80 C345.22,141.68 357.33,141.57 365.00,141.60 C372.67,141.63 372.33,141.83 380.00,142.00 C387.67,142.17 399.33,142.25 411.00,142.60 C422.67,142.95 438.83,143.67 450.00,144.10 C461.17,144.53 469.67,144.83 478.00,145.20 C486.33,145.57 493.50,145.97 500.00,146.30 C506.50,146.63 512.00,146.98 517.00,147.20 C522.00,147.42 522.83,147.42 530.00,147.60 C537.17,147.78 550.83,148.20 560.00,148.30 C569.17,148.40 578.33,148.40 585.00,148.20 C591.67,148.00 595.83,147.52 600.00,147.10 C604.17,146.68 607.00,146.28 610.00,145.70 C613.00,145.12 615.50,143.90 618.00,143.60 C620.50,143.30 622.50,143.37 625.00,143.90 C627.50,144.43 631.00,145.87 633.00,146.80 C635.00,147.73 635.00,148.60 637.00,149.50 C639.00,150.40 642.00,151.20 645.00,152.20 C648.00,153.20 652.50,154.65 655.00,155.50 C657.50,156.35 657.17,156.47 660.00,157.30 C662.83,158.13 668.67,159.60 672.00,160.50 C675.33,161.40 675.33,161.38 680.00,162.70 C684.67,164.02 693.33,166.53 700.00,168.40 C706.67,170.27 713.33,172.02 720.00,173.90 C726.67,175.78 732.22,177.52 740.00,179.70 C747.78,181.88 758.70,184.77 766.70,187.00 C774.70,189.23 779.12,190.53 788.00,193.10 C796.88,195.67 813.00,200.38 820.00,202.40 C827.00,204.42 826.67,204.15 830.00,205.20 C833.33,206.25 836.67,207.53 840.00,208.70 C843.33,209.87 846.67,211.03 850.00,212.20 C853.33,213.37 857.50,214.75 860.00,215.70 C862.50,216.65 863.33,217.07 865.00,217.90 C866.67,218.73 868.33,219.68 870.00,220.70 C871.67,221.72 873.67,223.02 875.00,224.00 C876.33,224.98 877.17,225.70 878.00,226.60 C878.83,227.50 879.33,228.28 880.00,229.40 C880.67,230.52 881.42,231.93 882.00,233.30 C882.58,234.67 883.00,237.40 883.50,237.60 C884.00,237.80 884.42,235.53 885.00,234.50 C885.58,233.47 886.17,232.35 887.00,231.40 C887.83,230.45 889.00,229.42 890.00,228.80 C891.00,228.18 891.83,227.95 893.00,227.70 C894.17,227.45 896.17,227.37 897.00,227.30 C897.83,227.23 897.83,227.30 898.00,227.30" stroke="#ff0000"/>
<path d="M297.80,402.80 C303.83,403.22 326.30,404.75 334.00,405.30 C341.70,405.85 339.67,405.72 344.00,406.10 C348.33,406.48 356.50,407.22 360.00,407.60 C363.50,407.98 363.33,408.00 365.00,408.40 C366.67,408.80 364.17,408.68 370.00,410.00 C375.83,411.32 393.08,414.77 400.00,416.30 C406.92,417.83 406.50,418.12 411.50,419.20 C416.50,420.28 423.58,421.30 430.00,422.80 C436.42,424.30 441.93,426.43 450.00,428.20 C458.07,429.97 470.07,431.70 478.40,433.40 C486.73,435.10 493.57,436.93 500.00,438.40 C506.43,439.87 512.00,441.00 517.00,442.20 C522.00,443.40 526.67,444.75 530.00,445.60 C533.33,446.45 534.50,446.53 537.00,447.30 C539.50,448.07 542.50,449.43 545.00,450.20 C547.50,450.97 548.50,450.72 552.00,451.90 C555.50,453.08 562.00,455.77 566.00,457.30 C570.00,458.83 572.67,459.70 576.00,461.10 C579.33,462.50 583.00,464.28 586.00,465.70 C589.00,467.12 591.67,468.22 594.00,469.60 C596.33,470.98 598.17,472.62 600.00,474.00 C601.83,475.38 603.33,476.25 605.00,477.90 C606.67,479.55 608.50,481.88 610.00,483.90 C611.50,485.92 612.83,487.63 614.00,490.00 C615.17,492.37 616.00,495.18 617.00,498.10 C618.00,501.02 619.00,504.48 620.00,507.50 C621.00,510.52 622.17,513.95 623.00,516.20 C623.83,518.45 624.17,519.08 625.00,521.00 C625.83,522.92 626.83,525.23 628.00,527.70 C629.17,530.17 630.83,533.45 632.00,535.80 C633.17,538.15 634.00,540.23 635.00,541.80 C636.00,543.37 637.00,543.97 638.00,545.20 C639.00,546.43 639.83,548.30 641.00,549.20 C642.17,550.10 643.50,550.15 645.00,550.60 C646.50,551.05 648.33,551.23 650.00,551.90 C651.67,552.57 653.33,553.83 655.00,554.60 C656.67,555.37 657.17,555.35 660.00,556.50 C662.83,557.65 667.33,560.05 672.00,561.50 C676.67,562.95 683.33,564.02 688.00,565.20 C692.67,566.38 694.67,567.42 700.00,568.60 C705.33,569.78 713.33,571.23 720.00,572.30 C726.67,573.37 732.22,573.60 740.00,575.00 C747.78,576.40 760.03,579.15 766.70,580.70 C773.37,582.25 774.45,583.03 780.00,584.30 C785.55,585.57 791.67,586.68 800.00,588.30 C808.33,589.92 821.33,592.12 830.00,594.00 C838.67,595.88 848.18,598.82 852.00,599.59 C855.82,600.37 852.60,598.58 852.90,598.66 C853.20,598.74 853.50,600.02 853.80,600.08 C854.10,600.15 854.40,598.94 854.70,599.04 C855.00,599.15 855.30,600.55 855.60,600.69 C855.90,600.82 856.20,599.84 856.50,599.87 C856.80,599.91 857.10,600.89 857.40,600.92 C857.70,600.94 858.00,599.91 858.30,600.02 C858.60,600.14 858.90,601.47 859.20,601.62 C859.50,601.76 859.80,600.75 860.10,600.91 C860.40,601.07 860.70,602.50 861.00,602.58 C861.30,602.65 861.60,601.27 861.90,601.35 C862.20,601.43 862.50,602.96 862.80,603.06 C863.10,603.15 863.40,601.83 863.70,601.91 C864.00,601.99 864.30,603.39 864.60,603.51 C864.90,603.64 865.20,602.56 865.50,602.65 C865.80,602.74 866.10,604.05 866.40,604.07 C866.70,604.10 867.00,602.74 867.30,602.83 C867.60,602.91 867.90,604.47 868.20,604.58 C868.50,604.68 868.80,603.35 869.10,603.46 C869.40,603.57 869.70,605.05 870.00,605.22 C870.30,605.39 870.60,604.35 870.90,604.48 C871.20,604.62 871.50,605.95 871.80,606.03 C872.10,606.10 872.40,604.87 872.70,604.95 C873.00,605.04 873.30,606.36 873.60,606.53 C873.90,606.71 874.20,605.86 874.50,606.01 C874.80,606.17 875.10,607.46 875.40,607.48 C875.70,607.50 876.00,606.13 876.30,606.16 C876.60,606.18 876.90,607.63 877.20,607.64 C877.50,607.65 877.80,606.11 878.10,606.23 C878.40,606.34 878.70,608.17 879.00,608.35 C879.30,608.52 879.60,607.34 879.90,607.28 C880.20,607.22 880.50,607.96 880.80,607.97 C881.10,607.99 881.40,607.30 881.70,607.39 C882.00,607.47 882.30,608.58 882.60,608.48 C882.90,608.38 883.20,606.90 883.50,606.78 C883.80,606.67 884.07,608.26 884.40,607.77 C884.73,607.29 885.23,605.63 885.50,603.90 C885.77,602.17 885.75,600.27 886.00,597.40 C886.25,594.53 886.75,591.72 887.00,586.70 C887.25,581.68 887.33,571.78 887.50,567.30 C887.67,562.82 887.83,562.13 888.00,559.80 C888.17,557.47 888.33,555.10 888.50,553.30 C888.67,551.50 888.75,550.35 889.00,549.00 C889.25,547.65 889.67,546.10 890.00,545.20 C890.33,544.30 890.50,544.05 891.00,543.60 C891.50,543.15 892.17,542.63 893.00,542.50 C893.83,542.37 895.17,542.62 896.00,542.80 C896.83,542.98 897.67,543.47 898.00,543.60" stroke="#0000ff"/>
<path d="M297.80,401.70 C299.83,401.83 305.83,402.20 310.00,402.50 C314.17,402.80 318.80,403.17 322.80,403.50 C326.80,403.83 330.47,404.20 334.00,404.50 C337.53,404.80 339.67,404.97 344.00,405.30 C348.33,405.63 356.50,406.15 360.00,406.50 C363.50,406.85 363.33,407.02 365.00,407.40 C366.67,407.78 364.17,407.57 370.00,408.80 C375.83,410.03 393.08,413.40 400.00,414.80 C406.92,416.20 406.50,416.28 411.50,417.20 C416.50,418.12 423.58,419.07 430.00,420.30 C436.42,421.53 441.93,423.13 450.00,424.60 C458.07,426.07 470.07,427.83 478.40,429.10 C486.73,430.37 493.57,431.17 500.00,432.20 C506.43,433.23 512.00,434.50 517.00,435.30 C522.00,436.10 525.33,436.20 530.00,437.00 C534.67,437.80 540.67,439.25 545.00,440.10 C549.33,440.95 552.50,441.37 556.00,442.10 C559.50,442.83 562.67,443.80 566.00,444.50 C569.33,445.20 572.67,445.32 576.00,446.30 C579.33,447.28 583.33,449.53 586.00,450.40 C588.67,451.27 590.00,450.67 592.00,451.50 C594.00,452.33 595.83,454.15 598.00,455.40 C600.17,456.65 603.00,457.47 605.00,459.00 C607.00,460.53 608.50,462.68 610.00,464.60 C611.50,466.52 612.83,468.52 614.00,470.50 C615.17,472.48 616.00,474.27 617.00,476.50 C618.00,478.73 619.00,481.32 620.00,483.90 C621.00,486.48 622.17,489.63 623.00,492.00 C623.83,494.37 624.17,496.08 625.00,498.10 C625.83,500.12 626.83,501.87 628.00,504.10 C629.17,506.33 630.67,508.92 632.00,511.50 C633.33,514.08 634.67,517.47 636.00,519.60 C637.33,521.73 638.83,522.83 640.00,524.30 C641.17,525.77 641.67,527.55 643.00,528.40 C644.33,529.25 646.50,528.97 648.00,529.40 C649.50,529.83 650.50,530.28 652.00,531.00 C653.50,531.72 654.83,532.35 657.00,533.70 C659.17,535.05 662.50,537.80 665.00,539.10 C667.50,540.40 668.17,539.65 672.00,541.50 C675.83,543.35 683.33,548.08 688.00,550.20 C692.67,552.32 694.67,552.48 700.00,554.20 C705.33,555.92 713.33,558.38 720.00,560.50 C726.67,562.62 732.22,564.58 740.00,566.90 C747.78,569.22 760.03,572.47 766.70,574.40 C773.37,576.33 774.45,576.92 780.00,578.50 C785.55,580.08 791.67,581.72 800.00,583.90 C808.33,586.08 820.83,589.27 830.00,591.60 C839.17,593.93 848.33,596.20 855.00,597.90 C861.67,599.60 866.67,600.95 870.00,601.80 C873.33,602.65 873.67,602.83 875.00,603.00 C876.33,603.17 877.17,603.15 878.00,602.80 C878.83,602.45 879.50,601.62 880.00,600.90 C880.50,600.18 880.67,599.80 881.00,598.50 C881.33,597.20 881.67,595.25 882.00,593.10 C882.33,590.95 882.75,589.00 883.00,585.60 C883.25,582.20 883.33,577.55 883.50,572.70 C883.67,567.85 883.75,560.27 884.00,556.50 C884.25,552.73 884.67,551.80 885.00,550.10 C885.33,548.40 885.50,547.38 886.00,546.30 C886.50,545.22 887.33,544.27 888.00,543.60 C888.67,542.93 889.17,542.57 890.00,542.30 C890.83,542.03 892.00,541.92 893.00,542.00 C894.00,542.08 895.17,542.53 896.00,542.80 C896.83,543.07 897.67,543.47 898.00,543.60" stroke="#ff0000"/>
</g>
<rect x="122.60" y="21.50" width="887.70" height="244.50" fill="none" stroke="#000" stroke-width="1.15"/>
<rect x="122.60" y="397.20" width="887.70" height="243.80" fill="none" stroke="#000" stroke-width="1.15"/>
<g opacity="0.999" text-rendering="geometricPrecision">
<text transform="translate(55.21,37.10) scale(1,1.05)" font-size="28">10</text>
<text transform="translate(86.35,23.30) scale(1,1.05)" font-size="21">10</text>
<g transform="translate(55.21,37.10) scale(1,1.05)" fill="#fff"><rect x="1.40" y="-3.64" width="5.57" height="4.48"/><rect x="9.60" y="-3.64" width="5.32" height="4.48"/></g>
<g transform="translate(86.35,23.30) scale(1,1.05)" fill="#fff"><rect x="1.05" y="-2.73" width="4.18" height="3.36"/><rect x="7.20" y="-2.73" width="3.99" height="3.36"/></g>
<text transform="translate(67.09,159.80) scale(1,1.05)" font-size="28">10</text>
<text transform="translate(98.22,146.00) scale(1,1.05)" font-size="21">0</text>
<g transform="translate(67.09,159.80) scale(1,1.05)" fill="#fff"><rect x="1.40" y="-3.64" width="5.57" height="4.48"/><rect x="9.60" y="-3.64" width="5.32" height="4.48"/></g>
<text transform="translate(48.22,281.80) scale(1,1.05)" font-size="28">10</text>
<text transform="translate(79.35,267.00) scale(1,1.05)" font-size="21">-10</text>
<g transform="translate(48.22,281.80) scale(1,1.05)" fill="#fff"><rect x="1.40" y="-3.64" width="5.57" height="4.48"/><rect x="9.60" y="-3.64" width="5.32" height="4.48"/></g>
<g transform="translate(86.35,267.00) scale(1,1.05)" fill="#fff"><rect x="1.05" y="-2.73" width="4.18" height="3.36"/><rect x="7.20" y="-2.73" width="3.99" height="3.36"/></g>
<text transform="translate(99.69,314.20) scale(1,1.05)" font-size="28">10</text>
<text transform="translate(130.83,300.40) scale(1,1.05)" font-size="21">0</text>
<g transform="translate(99.69,314.20) scale(1,1.05)" fill="#fff"><rect x="1.40" y="-3.64" width="5.57" height="4.48"/><rect x="9.60" y="-3.64" width="5.32" height="4.48"/></g>
<text transform="translate(99.69,689.10) scale(1,1.05)" font-size="28">10</text>
<text transform="translate(130.83,675.30) scale(1,1.05)" font-size="21">0</text>
<g transform="translate(99.69,689.10) scale(1,1.05)" fill="#fff"><rect x="1.40" y="-3.64" width="5.57" height="4.48"/><rect x="9.60" y="-3.64" width="5.32" height="4.48"/></g>
<text transform="translate(321.62,314.20) scale(1,1.05)" font-size="28">10</text>
<text transform="translate(352.75,300.40) scale(1,1.05)" font-size="21">1</text>
<g transform="translate(321.62,314.20) scale(1,1.05)" fill="#fff"><rect x="1.40" y="-3.64" width="5.57" height="4.48"/><rect x="9.60" y="-3.64" width="5.32" height="4.48"/></g>
<g transform="translate(352.75,300.40) scale(1,1.05)" fill="#fff"><rect x="1.05" y="-2.73" width="4.18" height="3.36"/><rect x="7.20" y="-2.73" width="3.99" height="3.36"/></g>
<text transform="translate(321.62,689.10) scale(1,1.05)" font-size="28">10</text>
<text transform="translate(352.75,675.30) scale(1,1.05)" font-size="21">1</text>
<g transform="translate(321.62,689.10) scale(1,1.05)" fill="#fff"><rect x="1.40" y="-3.64" width="5.57" height="4.48"/><rect x="9.60" y="-3.64" width="5.32" height="4.48"/></g>
<g transform="translate(352.75,675.30) scale(1,1.05)" fill="#fff"><rect x="1.05" y="-2.73" width="4.18" height="3.36"/><rect x="7.20" y="-2.73" width="3.99" height="3.36"/></g>
<text transform="translate(543.54,314.20) scale(1,1.05)" font-size="28">10</text>
<text transform="translate(574.68,300.40) scale(1,1.05)" font-size="21">2</text>
<g transform="translate(543.54,314.20) scale(1,1.05)" fill="#fff"><rect x="1.40" y="-3.64" width="5.57" height="4.48"/><rect x="9.60" y="-3.64" width="5.32" height="4.48"/></g>
<text transform="translate(543.54,689.10) scale(1,1.05)" font-size="28">10</text>
<text transform="translate(574.68,675.30) scale(1,1.05)" font-size="21">2</text>
<g transform="translate(543.54,689.10) scale(1,1.05)" fill="#fff"><rect x="1.40" y="-3.64" width="5.57" height="4.48"/><rect x="9.60" y="-3.64" width="5.32" height="4.48"/></g>
<text transform="translate(765.47,314.20) scale(1,1.05)" font-size="28">10</text>
<text transform="translate(796.61,300.40) scale(1,1.05)" font-size="21">3</text>
<g transform="translate(765.47,314.20) scale(1,1.05)" fill="#fff"><rect x="1.40" y="-3.64" width="5.57" height="4.48"/><rect x="9.60" y="-3.64" width="5.32" height="4.48"/></g>
<text transform="translate(765.47,689.10) scale(1,1.05)" font-size="28">10</text>
<text transform="translate(796.61,675.30) scale(1,1.05)" font-size="21">3</text>
<g transform="translate(765.47,689.10) scale(1,1.05)" fill="#fff"><rect x="1.40" y="-3.64" width="5.57" height="4.48"/><rect x="9.60" y="-3.64" width="5.32" height="4.48"/></g>
<text transform="translate(987.39,314.20) scale(1,1.05)" font-size="28">10</text>
<text transform="translate(1018.53,300.40) scale(1,1.05)" font-size="21">4</text>
<g transform="translate(987.39,314.20) scale(1,1.05)" fill="#fff"><rect x="1.40" y="-3.64" width="5.57" height="4.48"/><rect x="9.60" y="-3.64" width="5.32" height="4.48"/></g>
<text transform="translate(987.39,689.10) scale(1,1.05)" font-size="28">10</text>
<text transform="translate(1018.53,675.30) scale(1,1.05)" font-size="21">4</text>
<g transform="translate(987.39,689.10) scale(1,1.05)" fill="#fff"><rect x="1.40" y="-3.64" width="5.57" height="4.48"/><rect x="9.60" y="-3.64" width="5.32" height="4.48"/></g>
<text transform="translate(94.43,408.40) scale(1,1.05)" font-size="28">0</text>
<text transform="translate(53.97,490.30) scale(1,1.05)" font-size="28">-200</text>
<text transform="translate(53.97,571.50) scale(1,1.05)" font-size="28">-400</text>
<text transform="translate(53.97,653.30) scale(1,1.05)" font-size="28">-600</text>
<text transform="translate(406.98,353.00) scale(1,1.05)" font-size="29.5">F</text><text transform="translate(424.60,353.00) scale(1,0.985)" font-size="29.5">r</text><text transform="translate(434.43,353.00) scale(1,0.985)" font-size="29.5">e</text><text transform="translate(450.83,353.00) scale(1,0.985)" font-size="29.5">q</text><text transform="translate(466.93,353.00) scale(1,0.985)" font-size="29.5">u</text><text transform="translate(484.03,353.00) scale(1,0.985)" font-size="29.5">e</text><text transform="translate(501.24,353.00) scale(1,0.985)" font-size="29.5">n</text><text transform="translate(517.24,353.00) scale(1,0.985)" font-size="29.5">c</text><text transform="translate(532.29,353.00) scale(1,0.985)" font-size="29.5">y</text><text transform="translate(552.64,353.00) scale(1,1.0)" font-size="29.5">(</text><text transform="translate(562.56,353.00) scale(1,0.985)" font-size="29.5">r</text><text transform="translate(572.49,353.00) scale(1,0.985)" font-size="29.5">a</text><text transform="translate(590.19,353.00) scale(1,0.985)" font-size="29.5">d</text><text transform="translate(605.69,353.00) scale(1,0.985)" font-size="29.5">i</text><text transform="translate(612.24,353.00) scale(1,0.985)" font-size="29.5">a</text><text transform="translate(629.49,353.00) scale(1,0.985)" font-size="29.5">n</text><text transform="translate(645.84,353.00) scale(1,0.985)" font-size="29.5">s</text><text transform="translate(660.69,353.00) scale(1,0.985)" font-size="29.5">/</text><text transform="translate(667.89,353.00) scale(1,0.985)" font-size="29.5">s</text><text transform="translate(683.04,353.00) scale(1,0.985)" font-size="29.5">e</text><text transform="translate(699.55,353.00) scale(1,0.985)" font-size="29.5">c</text><text transform="translate(716.20,353.00) scale(1,1.0)" font-size="29.5">)</text>
<text transform="translate(406.98,728.10) scale(1,1.05)" font-size="29.5">F</text><text transform="translate(424.60,728.10) scale(1,0.985)" font-size="29.5">r</text><text transform="translate(434.43,728.10) scale(1,0.985)" font-size="29.5">e</text><text transform="translate(450.83,728.10) scale(1,0.985)" font-size="29.5">q</text><text transform="translate(466.93,728.10) scale(1,0.985)" font-size="29.5">u</text><text transform="translate(484.03,728.10) scale(1,0.985)" font-size="29.5">e</text><text transform="translate(501.24,728.10) scale(1,0.985)" font-size="29.5">n</text><text transform="translate(517.24,728.10) scale(1,0.985)" font-size="29.5">c</text><text transform="translate(532.29,728.10) scale(1,0.985)" font-size="29.5">y</text><text transform="translate(552.64,728.10) scale(1,1.0)" font-size="29.5">(</text><text transform="translate(562.56,728.10) scale(1,0.985)" font-size="29.5">r</text><text transform="translate(572.49,728.10) scale(1,0.985)" font-size="29.5">a</text><text transform="translate(590.19,728.10) scale(1,0.985)" font-size="29.5">d</text><text transform="translate(605.69,728.10) scale(1,0.985)" font-size="29.5">i</text><text transform="translate(612.24,728.10) scale(1,0.985)" font-size="29.5">a</text><text transform="translate(629.49,728.10) scale(1,0.985)" font-size="29.5">n</text><text transform="translate(645.84,728.10) scale(1,0.985)" font-size="29.5">s</text><text transform="translate(660.69,728.10) scale(1,0.985)" font-size="29.5">/</text><text transform="translate(667.89,728.10) scale(1,0.985)" font-size="29.5">s</text><text transform="translate(683.04,728.10) scale(1,0.985)" font-size="29.5">e</text><text transform="translate(699.55,728.10) scale(1,0.985)" font-size="29.5">c</text><text transform="translate(716.20,728.10) scale(1,1.0)" font-size="29.5">)</text>
<text transform="translate(34.00,241.17) rotate(-90)" font-size="29.5">L</text><text transform="translate(34.00,225.47) rotate(-90)" font-size="29.5">o</text><text transform="translate(34.00,209.77) rotate(-90)" font-size="29.5">g</text><text transform="translate(34.00,185.16) rotate(-90)" font-size="29.5">M</text><text transform="translate(34.00,160.39) rotate(-90)" font-size="29.5">a</text><text transform="translate(34.00,143.99) rotate(-90)" font-size="29.5">g</text><text transform="translate(34.00,126.79) rotate(-90)" font-size="29.5">n</text><text transform="translate(34.00,110.68) rotate(-90)" font-size="29.5">i</text><text transform="translate(34.00,104.14) rotate(-90)" font-size="29.5">t</text><text transform="translate(34.00,95.23) rotate(-90)" font-size="29.5">u</text><text transform="translate(34.00,78.23) rotate(-90)" font-size="29.5">d</text><text transform="translate(34.00,62.43) rotate(-90)" font-size="29.5">e</text>
<text transform="translate(39.20,628.13) rotate(-90)" font-size="29.5">P</text><text transform="translate(39.20,609.86) rotate(-90)" font-size="29.5">h</text><text transform="translate(39.20,593.35) rotate(-90)" font-size="29.5">a</text><text transform="translate(39.20,576.35) rotate(-90)" font-size="29.5">s</text><text transform="translate(39.20,560.90) rotate(-90)" font-size="29.5">e</text><text transform="translate(39.20,537.50) rotate(-90)" font-size="29.5">(</text><text transform="translate(39.20,528.27) rotate(-90)" font-size="29.5">d</text><text transform="translate(39.20,510.97) rotate(-90)" font-size="29.5">e</text><text transform="translate(39.20,495.47) rotate(-90)" font-size="29.5">g</text><text transform="translate(39.20,478.17) rotate(-90)" font-size="29.5">r</text><text transform="translate(39.20,469.25) rotate(-90)" font-size="29.5">e</text><text transform="translate(39.20,452.94) rotate(-90)" font-size="29.5">e</text><text transform="translate(39.20,436.44) rotate(-90)" font-size="29.5">s</text><text transform="translate(39.20,420.69) rotate(-90)" font-size="29.5">)</text>
</g>
</svg>
</body></html>
